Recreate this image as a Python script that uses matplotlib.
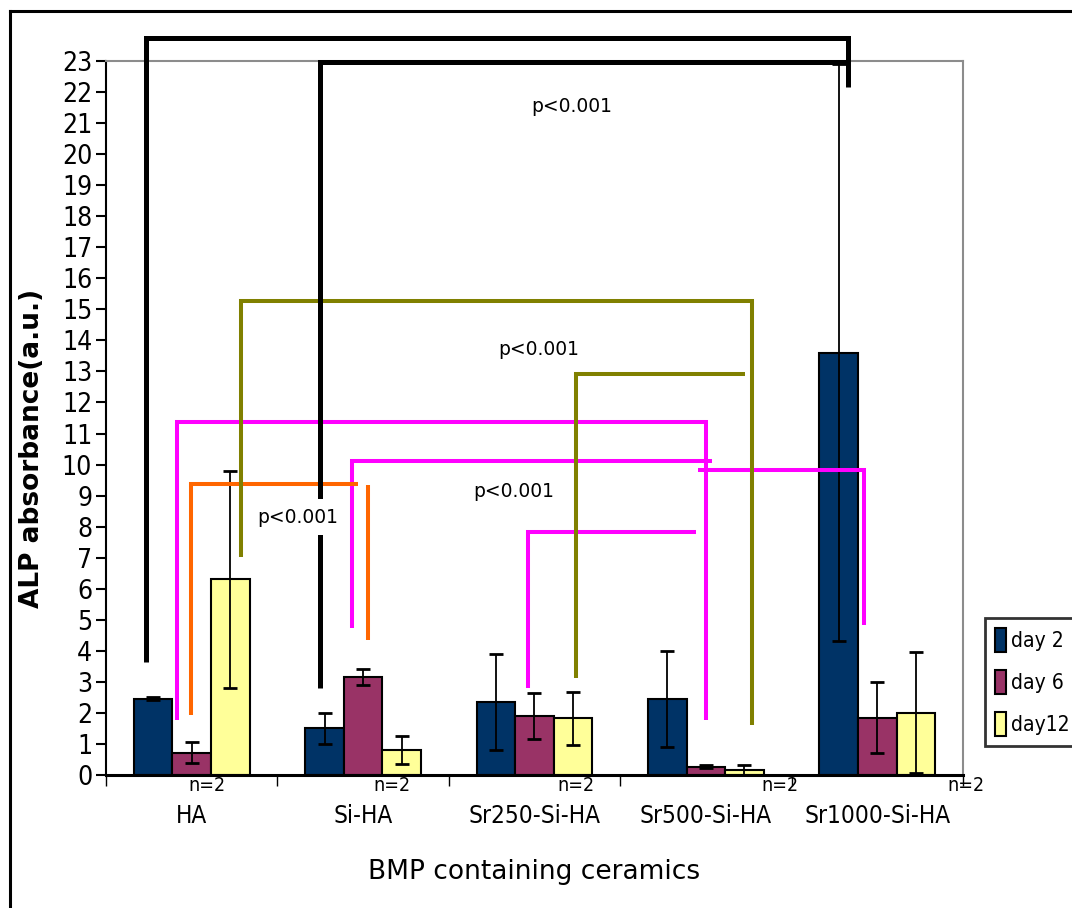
import numpy as np
import matplotlib
matplotlib.use("Agg")
from matplotlib import pyplot as plt
from matplotlib.patches import Patch
from matplotlib.lines import Line2D
import matplotlib.transforms as mtransforms

# data
groups = ["HA", "Si-HA", "Sr250-Si-HA", "Sr500-Si-HA", "Sr1000-Si-HA"]
series = ["day 2", "day 6", "day12"]
day2 = [2.45, 1.50, 2.35, 2.45, 13.6]
day6 = [0.72, 3.15, 1.90, 0.27, 1.85]
day12 = [6.30, 0.80, 1.82, 0.15, 2.00]
day2_err = [0.05, 0.50, 1.55, 1.55, 9.30]
day6_err = [0.33, 0.25, 0.75, 0.05, 1.15]
day12_err = [3.50, 0.45, 0.85, 0.18, 1.95]
n_labels = ["n=2"] * 5
n_label_x = [0.09, 1.17, 2.24, 3.43, 4.52]

colors = ["#003366", "#993366", "#FFFF99"]
cond = dict(family="DejaVu Sans", stretch="condensed")

# significance brackets: (colour, linewidth, list of (x, y) points)
brackets = [
    ("#FF00FF", 2.9, [(-0.086, 1.77), (-0.086, 11.37), (3.0, 11.37), (3.0, 1.77)]),
    ("#FF00FF", 2.9, [(0.935, 4.74), (0.935, 10.12), (3.036, 10.12)]),
    ("#FF00FF", 2.9, [(2.954, 9.83), (3.922, 9.83), (3.922, 4.83)]),
    ("#FF00FF", 2.9, [(1.962, 2.80), (1.962, 7.83), (2.942, 7.83)]),
    ("#FF6600", 2.9, [(-0.004, 1.93), (-0.004, 9.37), (0.97, 9.37)]),
    ("#FF6600", 2.9, [(1.029, 9.34), (1.029, 4.35)]),
    ("#808000", 2.9, [(0.288, 7.02), (0.288, 15.27), (3.269, 15.27), (3.269, 1.61)]),
    ("#808000", 2.9, [(2.242, 3.13), (2.242, 12.92), (3.228, 12.92)]),
    ("black", 3.6, [(-0.267, 3.64), (-0.267, 23.74), (3.829, 23.74), (3.829, 22.16)]),
    ("black", 3.6, [(0.749, 2.80), (0.749, 22.97), (3.829, 22.97)]),
]
pvals = [(2.217, 21.52, False), (2.026, 13.72, False), (0.62, 8.31, True), (1.88, 9.12, True)]

fig = plt.figure(figsize=(10.72, 9.08), dpi=100)
ax = fig.add_axes([0.0989, 0.1465, 0.7994, 0.7863])

x = np.arange(len(groups))
w = 0.225
vals = [day2, day6, day12]
errs = [day2_err, day6_err, day12_err]
for i in range(3):
    xs = x + (i - 1) * w
    ax.bar(xs, vals[i], w, color=colors[i], edgecolor="black", linewidth=1.5, zorder=2)
    ax.errorbar(xs, vals[i], yerr=errs[i], fmt="none", ecolor="black",
                elinewidth=1.3, capsize=5, capthick=2, zorder=3)

zord = {"#FF00FF": 4, "#FF6600": 5, "#808000": 6, "black": 7}
for col, lw, pts in brackets:
    px, py = zip(*pts)
    ax.plot(px, py, color=col, lw=lw, solid_capstyle="butt", solid_joinstyle="miter",
            zorder=zord[col], clip_on=False)

for tx, ty, boxed in pvals:
    kw = {}
    if boxed:
        kw["bbox"] = dict(facecolor="white", edgecolor="none", pad=6)
    ax.text(tx, ty, "p<0.001", ha="center", va="center", fontsize=13.5, zorder=9, **kw)

ax.set_xlim(-0.5, 4.5)
ax.set_ylim(0, 23)
ax.set_yticks(range(0, 24))
ax.set_yticklabels([str(v) for v in range(0, 24)], fontsize=19, **cond)
ax.tick_params(axis="y", length=7, width=1.5, direction="out", pad=3)
ax.set_xticks(x)
ax.set_xticklabels(groups, fontsize=17.5, **cond)
ax.tick_params(axis="x", which="major", length=0, pad=21)
ax.set_xticks(np.arange(-0.5, 4.6, 1), minor=True)
ax.tick_params(axis="x", which="minor", length=8, width=1, direction="out")

for s in ["left", "bottom"]:
    ax.spines[s].set_color("black")
ax.spines["left"].set_linewidth(1.5)
ax.spines["bottom"].set_linewidth(2.2)
for s in ["top", "right"]:
    ax.spines[s].set_color("#8c8c8c")
    ax.spines[s].set_linewidth(1.5)

trans = mtransforms.blended_transform_factory(ax.transData, ax.transAxes)
for nx, lab in zip(n_label_x, n_labels):
    ax.text(nx, -0.002, lab, transform=trans, ha="center", va="top", fontsize=14, **cond)

ax.set_xlabel("BMP containing ceramics", fontsize=19, labelpad=22)
ax.set_ylabel("ALP absorbance(a.u.)", fontsize=19, fontweight="bold")
ax.yaxis.set_label_coords(-0.071, 0.458)

handles = [Patch(facecolor=c, edgecolor="black", linewidth=1.5) for c in colors]
leg = fig.legend(handles, series, loc="upper left", bbox_to_anchor=(985 / 1072, 1 - 618 / 908),
                 frameon=True, fancybox=False, edgecolor="black",
                 prop={"family": "DejaVu Sans", "stretch": "condensed", "size": 15},
                 handlelength=0.5, handleheight=1.4, handletextpad=0.25, labelspacing=0.85,
                 borderpad=0.5, borderaxespad=0)
leg.get_frame().set_linewidth(2)

# outer frame of the picture
fx = 10 / 1072
fy = 1 - 11 / 908
fig.add_artist(Line2D([fx, fx], [-0.01, fy], color="black", lw=2.2))
fig.add_artist(Line2D([fx, 1.01], [fy, fy], color="black", lw=2.2))

plt.savefig("out.png", dpi=100)
